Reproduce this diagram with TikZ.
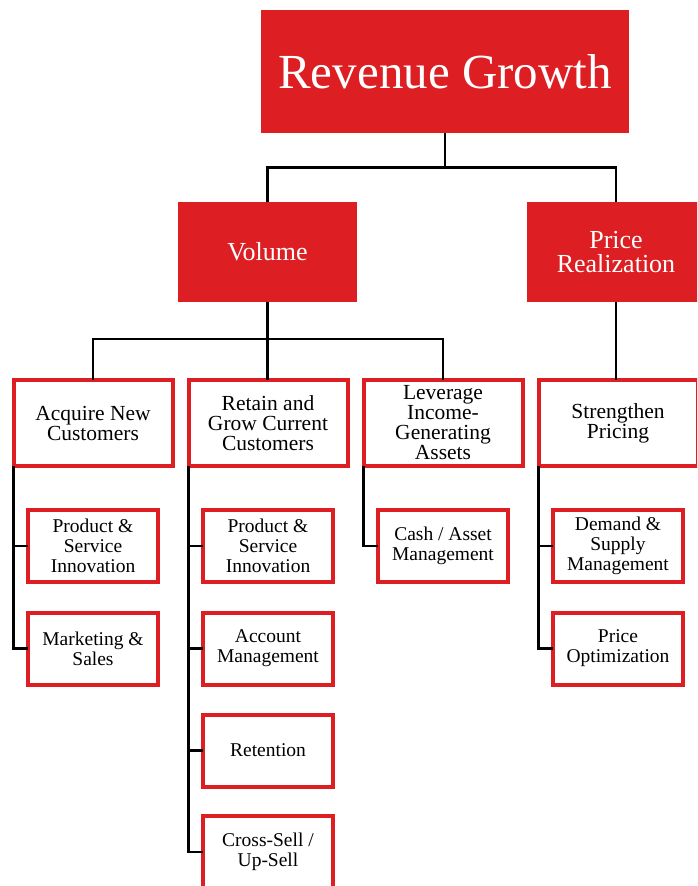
\documentclass[tikz,border=0pt]{standalone}
\usepackage{fontspec}
\setmainfont{Liberation Serif}
\usetikzlibrary{calc}
\definecolor{brandred}{RGB}{221,30,34}
\begin{document}
\begin{tikzpicture}[x=1pt,y=-1pt,
  solidbox/.style={rectangle,fill=brandred,draw=none,text=white,align=center,inner sep=0pt,outer sep=0pt},
  topbox/.style={solidbox,minimum width=368pt,minimum height=123pt,font=\fontsize{49}{49}\selectfont},
  midbox/.style={solidbox,minimum width=179pt,minimum height=100pt,font=\fontsize{26}{24}\selectfont},
  catbox/.style={rectangle,draw=brandred,line width=4pt,fill=white,align=center,inner sep=0pt,outer sep=0pt,
    minimum width=159pt,minimum height=86pt,font=\fontsize{21.5}{20}\selectfont},
  itembox/.style={rectangle,draw=brandred,line width=4pt,fill=white,align=center,inner sep=0pt,outer sep=0pt,
    minimum width=130pt,minimum height=72pt,font=\fontsize{19.5}{20}\selectfont},
  link/.style={draw=black,line width=2.2pt}]
\useasboundingbox (0,0) rectangle (697,886);
\begin{scope}
\clip (0,0) rectangle (697,886);

% top level and the two drivers
\node[topbox] (rev) at (445,71.5) {Revenue Growth};
\node[midbox] (vol) at (267.5,252) {Volume};
\node[midbox] (pr) at (616,252) {Price\\Realization};

% levers
\node[catbox] (acq) at (93,423) {Acquire New\\Customers};
\node[catbox] (ret) at (268,423) {Retain and\\Grow Current\\Customers};
\node[catbox] (lev) at (443,423) {Leverage\\Income-\\Generating\\Assets};
\node[catbox] (str) at (618,423) {Strengthen\\Pricing};

% actions
\node[itembox] (a1) at (93,546) {Product \&\\Service\\Innovation};
\node[itembox] (a2) at (93,648.5) {Marketing \&\\Sales};
\node[itembox] (r1) at (268,546) {Product \&\\Service\\Innovation};
\node[itembox] (r2) at (268,648.5) {Account\\Management};
\node[itembox] (r3) at (268,750.5) {Retention};
\node[itembox] (r4) at (268,852) {Cross-Sell /\\Up-Sell};
\node[itembox] (l1) at (443,546) {Cash / Asset\\Management};
\node[itembox] (s1) at (618,546) {Demand \&\\Supply\\Management};
\node[itembox] (s2) at (618,648.5) {Price\\Optimization};

% tree connectors
\coordinate (j1) at ($(rev.south)!.5!(rev.south |- vol.north)$);
\coordinate (j2) at ($(vol.south)!.47!(vol.south |- acq.north)$);
\draw[link] (rev.south) -- (j1);
\draw[link] (vol.north) |- (j1) -| (pr.north);
\draw[link] (vol.south) -- (vol.south |- ret.north);
\draw[link] (acq.north) |- (j2) -| (lev.north);
\draw[link] (pr.south) -- (pr.south |- str.north);

\draw[link] (acq.south west) |- (a1.west);
\draw[link] (acq.south west) |- (a2.west);
\draw[link] (ret.south west) |- (r1.west);
\draw[link] (ret.south west) |- (r2.west);
\draw[link] (ret.south west) |- (r3.west);
\draw[link] (ret.south west) |- (r4.west);
\draw[link] (lev.south west) |- (l1.west);
\draw[link] (str.south west) |- (s1.west);
\draw[link] (str.south west) |- (s2.west);
\end{scope}
\end{tikzpicture}
\end{document}
